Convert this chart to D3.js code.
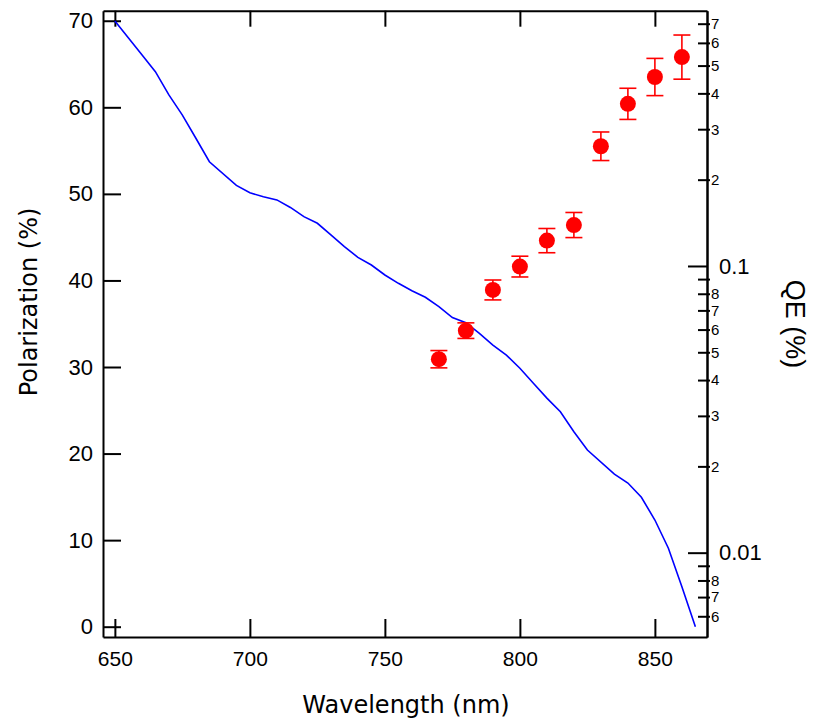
<!DOCTYPE html>
<html>
<head>
<meta charset="utf-8">
<script src="https://cdn.jsdelivr.net/npm/d3@7"></script>
<style>
body { margin: 0; background: #fff; }
svg text { font-family: 'Liberation Sans', Arial, sans-serif; fill: #000; }
.title { font-family: 'Comic Sans MS', 'DejaVu Sans', sans-serif; }
.axis path, .axis line { stroke: #000; stroke-width: 2; }
</style>
</head>
<body>
<svg id="chart"></svg>
<script>
// polarization measurements (left axis)
var polWave = [770, 780, 790, 800, 810, 820, 830, 840, 850, 860];
var polValue = [30.9, 34.2, 38.9, 41.6, 44.6, 46.4, 55.5, 60.4, 63.5, 65.8];
var polError = [1.0, 0.9, 1.15, 1.2, 1.4, 1.45, 1.65, 1.8, 2.15, 2.55];

// quantum efficiency curve (right log axis)
var qeWave = [650, 660, 665, 670, 675, 680, 685, 695, 700, 705, 710, 715, 720, 725, 730, 735, 740, 745,
              750, 755, 760, 765, 770, 775, 780, 785, 790, 795, 800, 805, 810, 815, 820, 825, 835, 840,
              845, 850, 855, 860, 865];
var qeValue = [0.715, 0.545, 0.476, 0.395, 0.336, 0.279, 0.231, 0.191, 0.180, 0.1745, 0.170, 0.160, 0.1486, 0.1409, 0.1283, 0.1168, 0.1072, 0.1008,
               0.0930, 0.0870, 0.0820, 0.0778, 0.0721, 0.0661, 0.0634, 0.0582, 0.0530, 0.0489, 0.0440, 0.0390, 0.0346, 0.0310, 0.0264, 0.0228, 0.0188, 0.0175,
               0.0156, 0.0130, 0.01036, 0.00761, 0.00552];

var xTicks = [650, 700, 750, 800, 850];
var yTicks = [0, 10, 20, 30, 40, 50, 60, 70];
var qeMajor = [0.01, 0.1];
var qeMinor = [0.006, 0.007, 0.008, 0.009, 0.02, 0.03, 0.04, 0.05, 0.06, 0.07, 0.08, 0.09, 0.2, 0.3, 0.4, 0.5, 0.6, 0.7];

var W = 813, H = 721;
var pLeft = 103, pRight = 707, pTop = 10.7, pBottom = 637;

var svg = d3.select('#chart').attr('width', W).attr('height', H);

var x = d3.scaleLinear().domain([645.6, 869.3]).range([pLeft, pRight]);
var y = d3.scaleLinear().domain([-1.19, 71.16]).range([pBottom, pTop]);
var yq = d3.scaleLog().domain([0.00508, 0.777]).range([pBottom, pTop]);

// bottom axis
svg.append('g').attr('class', 'axis').attr('transform', 'translate(0,' + pBottom + ')')
    .call(d3.axisBottom(x).tickValues(xTicks).tickSizeInner(-18).tickSizeOuter(0).tickPadding(14).tickFormat(d3.format('d')))
    .selectAll('text').style('font-size', '21px');
// top axis (ticks only)
svg.append('g').attr('class', 'axis').attr('transform', 'translate(0,' + pTop + ')')
    .call(d3.axisTop(x).tickValues(xTicks).tickSizeInner(-16).tickSizeOuter(0).tickFormat(''));
// left axis
svg.append('g').attr('class', 'axis').attr('transform', 'translate(' + pLeft + ',0)')
    .call(d3.axisLeft(y).tickValues(yTicks).tickSizeInner(-18).tickSizeOuter(0).tickPadding(10))
    .selectAll('text').style('font-size', '22px');

// right log axis: minor ticks cross the line, majors point inward
var firstDigit = function(v) { return Math.round(v / Math.pow(10, Math.floor(Math.log10(v) + 1e-9))); };
var gMinor = svg.append('g').attr('class', 'axis').attr('transform', 'translate(' + pRight + ',0)')
    .call(d3.axisRight(yq).tickValues(qeMinor).tickSizeInner(3).tickSizeOuter(0).tickPadding(1)
        .tickFormat(function(d) { var k = firstDigit(d); return k === 9 ? '' : String(k); }));
gMinor.selectAll('.tick line').attr('x1', -9).attr('x2', 3);
gMinor.selectAll('text').style('font-size', '15px');
svg.append('g').attr('class', 'axis').attr('transform', 'translate(' + pRight + ',0)')
    .call(d3.axisRight(yq).tickValues(qeMajor).tickSizeInner(-19).tickSizeOuter(0).tickPadding(12)
        .tickFormat(function(d) { return String(d); }))
    .selectAll('text').style('font-size', '22px');

// QE line
svg.append('path')
    .datum(d3.zip(qeWave, qeValue))
    .attr('fill', 'none').attr('stroke', '#0000ff').attr('stroke-width', 1.6)
    .attr('d', d3.line().x(function(d) { return x(d[0]); }).y(function(d) { return yq(d[1]); }));

// polarization points with error bars
var pts = svg.selectAll('g.pt').data(d3.range(polWave.length)).enter().append('g').attr('class', 'pt');
pts.append('line')
    .attr('x1', function(i) { return x(polWave[i]); }).attr('x2', function(i) { return x(polWave[i]); })
    .attr('y1', function(i) { return y(polValue[i] - polError[i]); }).attr('y2', function(i) { return y(polValue[i] + polError[i]); })
    .attr('stroke', '#ff0000').attr('stroke-width', 1.6);
[-1, 1].forEach(function(s) {
    pts.append('line')
        .attr('x1', function(i) { return x(polWave[i]) - 8.5; }).attr('x2', function(i) { return x(polWave[i]) + 8.5; })
        .attr('y1', function(i) { return y(polValue[i] + s * polError[i]); }).attr('y2', function(i) { return y(polValue[i] + s * polError[i]); })
        .attr('stroke', '#ff0000').attr('stroke-width', 1.6);
});
pts.append('circle')
    .attr('cx', function(i) { return x(polWave[i]); }).attr('cy', function(i) { return y(polValue[i]); })
    .attr('r', 8).attr('fill', '#ff0000');

// titles
svg.append('text').attr('class', 'title').attr('x', 406).attr('y', 713)
    .attr('text-anchor', 'middle').style('font-size', '24px').text('Wavelength (nm)');
svg.append('text').attr('class', 'title').attr('transform', 'translate(37,302) rotate(-90)')
    .attr('text-anchor', 'middle').style('font-size', '24px').text('Polarization (%)');
svg.append('text').attr('transform', 'translate(786,324) rotate(90)')
    .attr('text-anchor', 'middle').style('font-size', '27px').text('QE (%)');
</script>
</body>
</html>
